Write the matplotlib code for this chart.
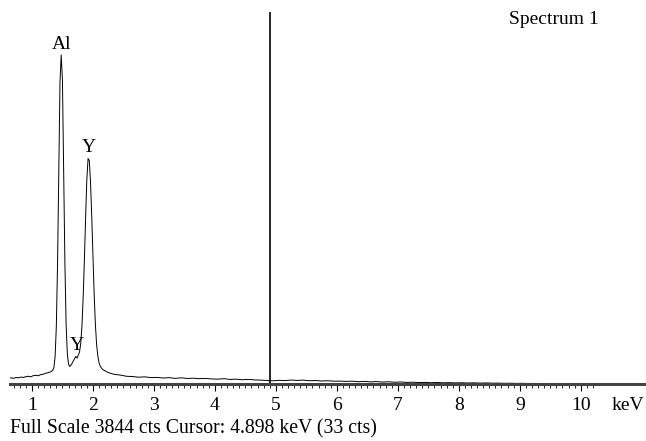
import numpy as np
import matplotlib
matplotlib.use('Agg')
import matplotlib.pyplot as plt

plt.rcParams['font.family'] = ['Liberation Serif', 'DejaVu Serif']

# spectrum (keV, counts)
energy_low = [0.62, 0.66, 0.70, 0.74, 0.78, 0.82, 0.86, 0.90, 0.94, 0.98,
              1.02, 1.06, 1.10, 1.14, 1.18, 1.22, 1.26, 1.30]
counts_low = [60, 64, 58, 68, 63, 72, 67, 76, 80, 74,
              86, 90, 85, 96, 100, 110, 116, 124]

energy_peaks = [1.32, 1.34, 1.36, 1.38, 1.40, 1.42, 1.44, 1.46, 1.48, 1.50,
                1.52, 1.54, 1.56, 1.58, 1.60, 1.62, 1.64, 1.66, 1.68, 1.70,
                1.72, 1.74, 1.76, 1.78, 1.80, 1.82, 1.84, 1.86, 1.88, 1.90,
                1.92, 1.94, 1.96, 1.98, 2.00, 2.02, 2.04, 2.06, 2.08, 2.10,
                2.12, 2.14, 2.16, 2.18, 2.20]
counts_peaks = [132, 140, 170, 285, 600, 1250, 2200, 3130, 3400, 3140,
                2210, 1260, 620, 310, 205, 180, 195, 215, 240, 262,
                285, 268, 300, 330, 420, 600, 900, 1280, 1720, 2110,
                2330, 2310, 2090, 1740, 1320, 930, 620, 410, 290, 220,
                185, 165, 150, 142, 136]

energy_tail = [2.25, 2.35, 2.45, 2.55, 2.65, 2.75, 2.85, 2.95, 3.05, 3.15,
               3.25, 3.35, 3.45, 3.55, 3.65, 3.75, 3.85, 3.95, 4.05, 4.15,
               4.25, 4.35, 4.45, 4.55, 4.65, 4.75, 4.85, 4.95, 5.05, 5.15,
               5.25, 5.35, 5.45, 5.55, 5.65, 5.75, 5.85, 5.95, 6.05, 6.15,
               6.25, 6.35, 6.45, 6.55, 6.65, 6.75, 6.85, 6.95, 7.05, 7.15,
               7.25, 7.35, 7.45, 7.55, 7.65, 7.75, 7.85, 7.95, 8.05, 8.15,
               8.25, 8.35, 8.45, 8.55, 8.65, 8.75, 8.85, 8.95, 9.05, 9.15,
               9.25, 9.35, 9.45, 9.55, 9.65, 9.75, 9.85, 9.95, 10.05, 10.15,
               10.25, 10.35, 10.45, 10.6, 10.8, 11.07]
counts_tail = [118, 100, 92, 80, 77, 70, 74, 66, 68, 62,
               66, 58, 64, 57, 60, 55, 58, 52, 50, 55,
               47, 50, 44, 48, 42, 40, 36, 33, 38, 35,
               41, 37, 40, 34, 36, 31, 34, 29, 30, 27,
               29, 24, 27, 22, 25, 20, 23, 18, 21, 16,
               19, 15, 17, 13, 16, 12, 14, 11, 13, 10,
               12, 9, 11, 8, 9, 7, 8, 6, 7, 5,
               6, 4, 5, 3, 4, 3, 2, 3, 1, 2,
               1, 1, 0, 0, 0, 0]

energy = energy_low + energy_peaks + energy_tail
counts = counts_low + counts_peaks + counts_tail

full_scale = 3844
cursor_kev = 4.898
cursor_cts = 33

peak_labels = [('Al', 1.48, 3400), ('Y', 1.93, 2330), ('Y', 1.74, 285)]

fig = plt.figure(figsize=(6.46, 4.41), dpi=100)
ax = fig.add_axes([10 / 646, 57 / 441, 636 / 646, 372 / 441])

ax.plot(energy, counts, color='black', lw=0.7)
ax.axvline(cursor_kev, color='black', lw=1.2)

for name, e, c in peak_labels:
    ax.annotate(name, (e, c), xytext=(0, 1.5), textcoords='offset points',
                ha='center', va='bottom', fontsize=14)

ax.set_xlim(0.64, 11.07)
ax.set_ylim(0, full_scale)
ax.set_xticks(range(1, 11))
ax.set_xticks(np.arange(0.7, 10.25, 0.1), minor=True)
ax.set_yticks([])
ax.tick_params(axis='x', which='major', direction='out', length=5, width=0.8,
               labelsize=14, pad=4)
ax.tick_params(axis='x', which='minor', direction='out', length=3, width=0.6)
for side in ['top', 'right', 'left']:
    ax.spines[side].set_visible(False)
ax.spines['bottom'].set_color('#444444')
ax.spines['bottom'].set_linewidth(2.2)

ax.text((612 - 10) / 636, -(406 - 384) / 372, 'keV', transform=ax.transAxes,
        ha='left', va='center', fontsize=14)
ax.text((509 - 10) / 636, (384 - 20) / 372, 'Spectrum 1', transform=ax.transAxes,
        ha='left', va='center', fontsize=14)
fig.text(10 / 646, 1 - 429 / 441,
         'Full Scale %d cts Cursor: %.3f keV (%d cts)' % (full_scale, cursor_kev, cursor_cts),
         ha='left', va='center', fontsize=14.2)

fig.savefig('out.png', dpi=100)
